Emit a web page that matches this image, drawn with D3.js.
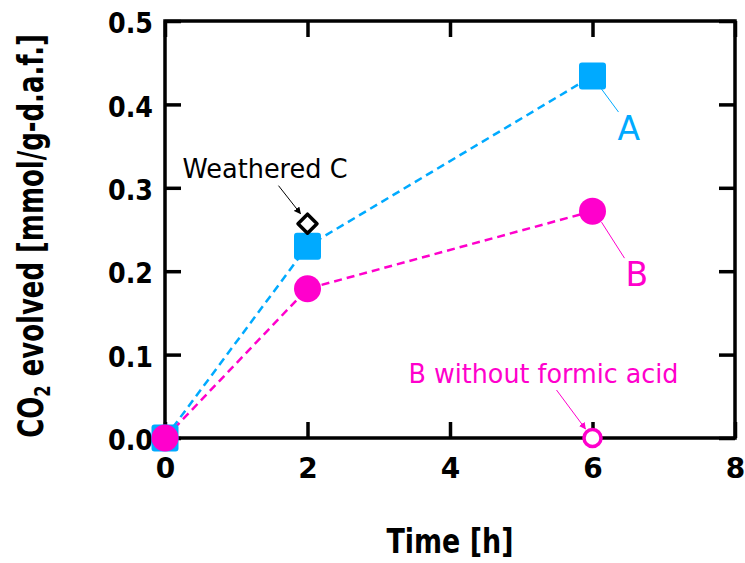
<!DOCTYPE html>
<html>
<head>
<meta charset="utf-8">
<script src="https://cdn.jsdelivr.net/npm/d3@7"></script>
<style>
  body { margin: 0; background: #fff; }
  text { font-family: "DejaVu Sans", Verdana, sans-serif; }
</style>
</head>
<body>
<div id="chart"></div>
<script>
var svgWidth = 745;
var svgHeight = 563;

var margin = { top: 21, right: 10, bottom: 125, left: 165 };
var width = svgWidth - margin.left - margin.right;
var height = svgHeight - margin.top - margin.bottom;

// data
var timesAB = [0, 2, 6];
var seriesA = [0, 0.23, 0.434];
var seriesB = [0, 0.179, 0.272];
var weatheredC = [{ t: 2, v: 0.257 }];
var bNoFormic = [{ t: 6, v: 0 }];
var xTicks = [0, 2, 4, 6, 8];
var yTicks = [0, 0.1, 0.2, 0.3, 0.4, 0.5];

var blue = "#00aaff";
var pink = "#ff00cc";

var svg = d3.select("#chart")
    .append("svg")
    .attr("width", svgWidth)
    .attr("height", svgHeight);

var defs = svg.append("defs");
function arrowMarker(id, color) {
    defs.append("marker")
        .attr("id", id)
        .attr("viewBox", "0 0 10 10")
        .attr("refX", 9)
        .attr("refY", 5)
        .attr("markerWidth", 7)
        .attr("markerHeight", 7)
        .attr("markerUnits", "userSpaceOnUse")
        .attr("orient", "auto")
        .append("path")
        .attr("d", "M0,0 L10,5 L0,10 Z")
        .attr("fill", color);
}
arrowMarker("arrBlack", "#000");
arrowMarker("arrPink", pink);

var chartGroup = svg.append("g")
    .attr("transform", `translate(${margin.left}, ${margin.top})`);

var x = d3.scaleLinear().domain([0, 8]).range([0, width]);
var y = d3.scaleLinear().domain([0, 0.5]).range([height, 0]);

// axes with inward ticks
var tickLen = 16;
function styleAxis(g) {
    g.select(".domain").remove();
    g.selectAll(".tick line").attr("stroke", "#000").attr("stroke-width", 3.5);
    g.selectAll(".tick text")
        .attr("fill", "#000")
        .attr("font-family", "DejaVu Sans, sans-serif")
        .attr("font-weight", "bold")
        .attr("font-size", 29);
}

var yAxis = chartGroup.append("g")
    .call(d3.axisLeft(y).tickValues(yTicks).tickFormat(d3.format(".1f"))
        .tickSize(-tickLen).tickPadding(12))
    .call(styleAxis);
yAxis.selectAll(".tick text").attr("dy", "0.4em").attr("textLength", 45).attr("lengthAdjust", "spacingAndGlyphs");

var xAxis = chartGroup.append("g")
    .attr("transform", `translate(0, ${height})`)
    .call(d3.axisBottom(x).tickValues(xTicks).tickSize(-tickLen).tickPadding(20))
    .call(styleAxis);
xAxis.selectAll(".tick text").attr("dy", "0.72em").attr("font-size", 28);

chartGroup.append("g")
    .attr("transform", `translate(${width}, 0)`)
    .call(d3.axisRight(y).tickValues(yTicks).tickFormat("").tickSize(-tickLen))
    .call(styleAxis);

chartGroup.append("g")
    .call(d3.axisTop(x).tickValues(xTicks).tickFormat("").tickSize(-tickLen))
    .call(styleAxis);

// frame
chartGroup.append("rect")
    .attr("x", 0).attr("y", 0)
    .attr("width", width).attr("height", height)
    .attr("fill", "none")
    .attr("stroke", "#000")
    .attr("stroke-width", 3.5);

// axis titles
chartGroup.append("text")
    .attr("x", width / 2)
    .attr("y", height + 115)
    .attr("text-anchor", "middle")
    .attr("font-weight", "bold")
    .attr("font-size", 33)
    .attr("textLength", 127)
    .attr("lengthAdjust", "spacingAndGlyphs")
    .text("Time [h]");

// y title: narrow the font with a horizontal scale so it spans ~404px
var yTitle = svg.append("text")
    .attr("text-anchor", "middle")
    .attr("font-weight", "bold")
    .attr("font-size", 35);
yTitle.append("tspan").text("CO");
yTitle.append("tspan").attr("font-size", 22).attr("dy", 7).text("2");
yTitle.append("tspan").attr("dy", -7).text(" evolved [mmol/g-d.a.f.]");
var titleScale = 404 / yTitle.node().getComputedTextLength();
yTitle.attr("transform", `translate(43, 236) rotate(-90) scale(${titleScale}, 1)`);

// dashed lines
var lineAB = d3.line().x((d, i) => x(timesAB[i])).y(d => y(d));
chartGroup.append("path")
    .datum(seriesA)
    .attr("d", lineAB)
    .attr("fill", "none")
    .attr("stroke", blue)
    .attr("stroke-width", 2.5)
    .attr("stroke-dasharray", "8,5");
chartGroup.append("path")
    .datum(seriesB)
    .attr("d", lineAB)
    .attr("fill", "none")
    .attr("stroke", pink)
    .attr("stroke-width", 2.5)
    .attr("stroke-dasharray", "8,5");

// markers A (squares)
var sq = 27;
chartGroup.selectAll(".ptA")
    .data(seriesA)
    .enter()
    .append("rect")
    .classed("ptA", true)
    .attr("x", (d, i) => x(timesAB[i]) - sq / 2)
    .attr("y", d => y(d) - sq / 2)
    .attr("width", sq)
    .attr("height", sq)
    .attr("rx", 3)
    .attr("fill", blue);

// markers B (circles)
chartGroup.selectAll(".ptB")
    .data(seriesB)
    .enter()
    .append("circle")
    .classed("ptB", true)
    .attr("cx", (d, i) => x(timesAB[i]))
    .attr("cy", d => y(d))
    .attr("r", 13.5)
    .attr("fill", pink);

// weathered C (open diamond)
chartGroup.selectAll(".ptC")
    .data(weatheredC)
    .enter()
    .append("path")
    .attr("transform", d => `translate(${x(d.t)}, ${y(d.v)})`)
    .attr("d", "M0,-9.5 L9.5,0 L0,9.5 L-9.5,0 Z")
    .attr("fill", "#fff")
    .attr("stroke", "#000")
    .attr("stroke-width", 3.5)
    .attr("stroke-linejoin", "round");

// B without formic acid (open circle)
chartGroup.selectAll(".ptD")
    .data(bNoFormic)
    .enter()
    .append("circle")
    .attr("cx", d => x(d.t))
    .attr("cy", d => y(d.v))
    .attr("r", 8.5)
    .attr("fill", "#fff")
    .attr("stroke", pink)
    .attr("stroke-width", 3.5);

// annotations
var ax = x(6), ay = y(seriesA[2]);
chartGroup.append("line")
    .attr("x1", ax + 9).attr("y1", ay + 13)
    .attr("x2", ax + 26).attr("y2", ay + 36)
    .attr("stroke", blue).attr("stroke-width", 1);
chartGroup.append("text")
    .attr("x", ax + 25).attr("y", ay + 64)
    .attr("fill", blue).attr("font-size", 33)
    .text("A");

var by = y(seriesB[2]);
chartGroup.append("line")
    .attr("x1", ax + 9).attr("y1", by + 11)
    .attr("x2", ax + 32).attr("y2", by + 47)
    .attr("stroke", pink).attr("stroke-width", 1);
chartGroup.append("text")
    .attr("x", ax + 33).attr("y", by + 75)
    .attr("fill", pink).attr("font-size", 33)
    .text("B");

var cx = x(weatheredC[0].t), cy = y(weatheredC[0].v);
chartGroup.append("line")
    .attr("x1", cx - 29).attr("y1", cy - 38)
    .attr("x2", cx - 7).attr("y2", cy - 10)
    .attr("stroke", "#000").attr("stroke-width", 1)
    .attr("marker-end", "url(#arrBlack)");
chartGroup.append("text")
    .attr("x", cx - 125).attr("y", cy - 46)
    .attr("fill", "#000").attr("font-size", 26)
    .attr("textLength", 165).attr("lengthAdjust", "spacingAndGlyphs")
    .text("Weathered C");

var dx = x(bNoFormic[0].t), dy = y(bNoFormic[0].v);
chartGroup.append("line")
    .attr("x1", dx - 36).attr("y1", dy - 48)
    .attr("x2", dx - 7).attr("y2", dy - 9)
    .attr("stroke", pink).attr("stroke-width", 1)
    .attr("marker-end", "url(#arrPink)");
chartGroup.append("text")
    .attr("x", dx - 184).attr("y", dy - 55)
    .attr("fill", pink).attr("font-size", 27)
    .attr("textLength", 270).attr("lengthAdjust", "spacingAndGlyphs")
    .text("B without formic acid");
</script>
</body>
</html>
